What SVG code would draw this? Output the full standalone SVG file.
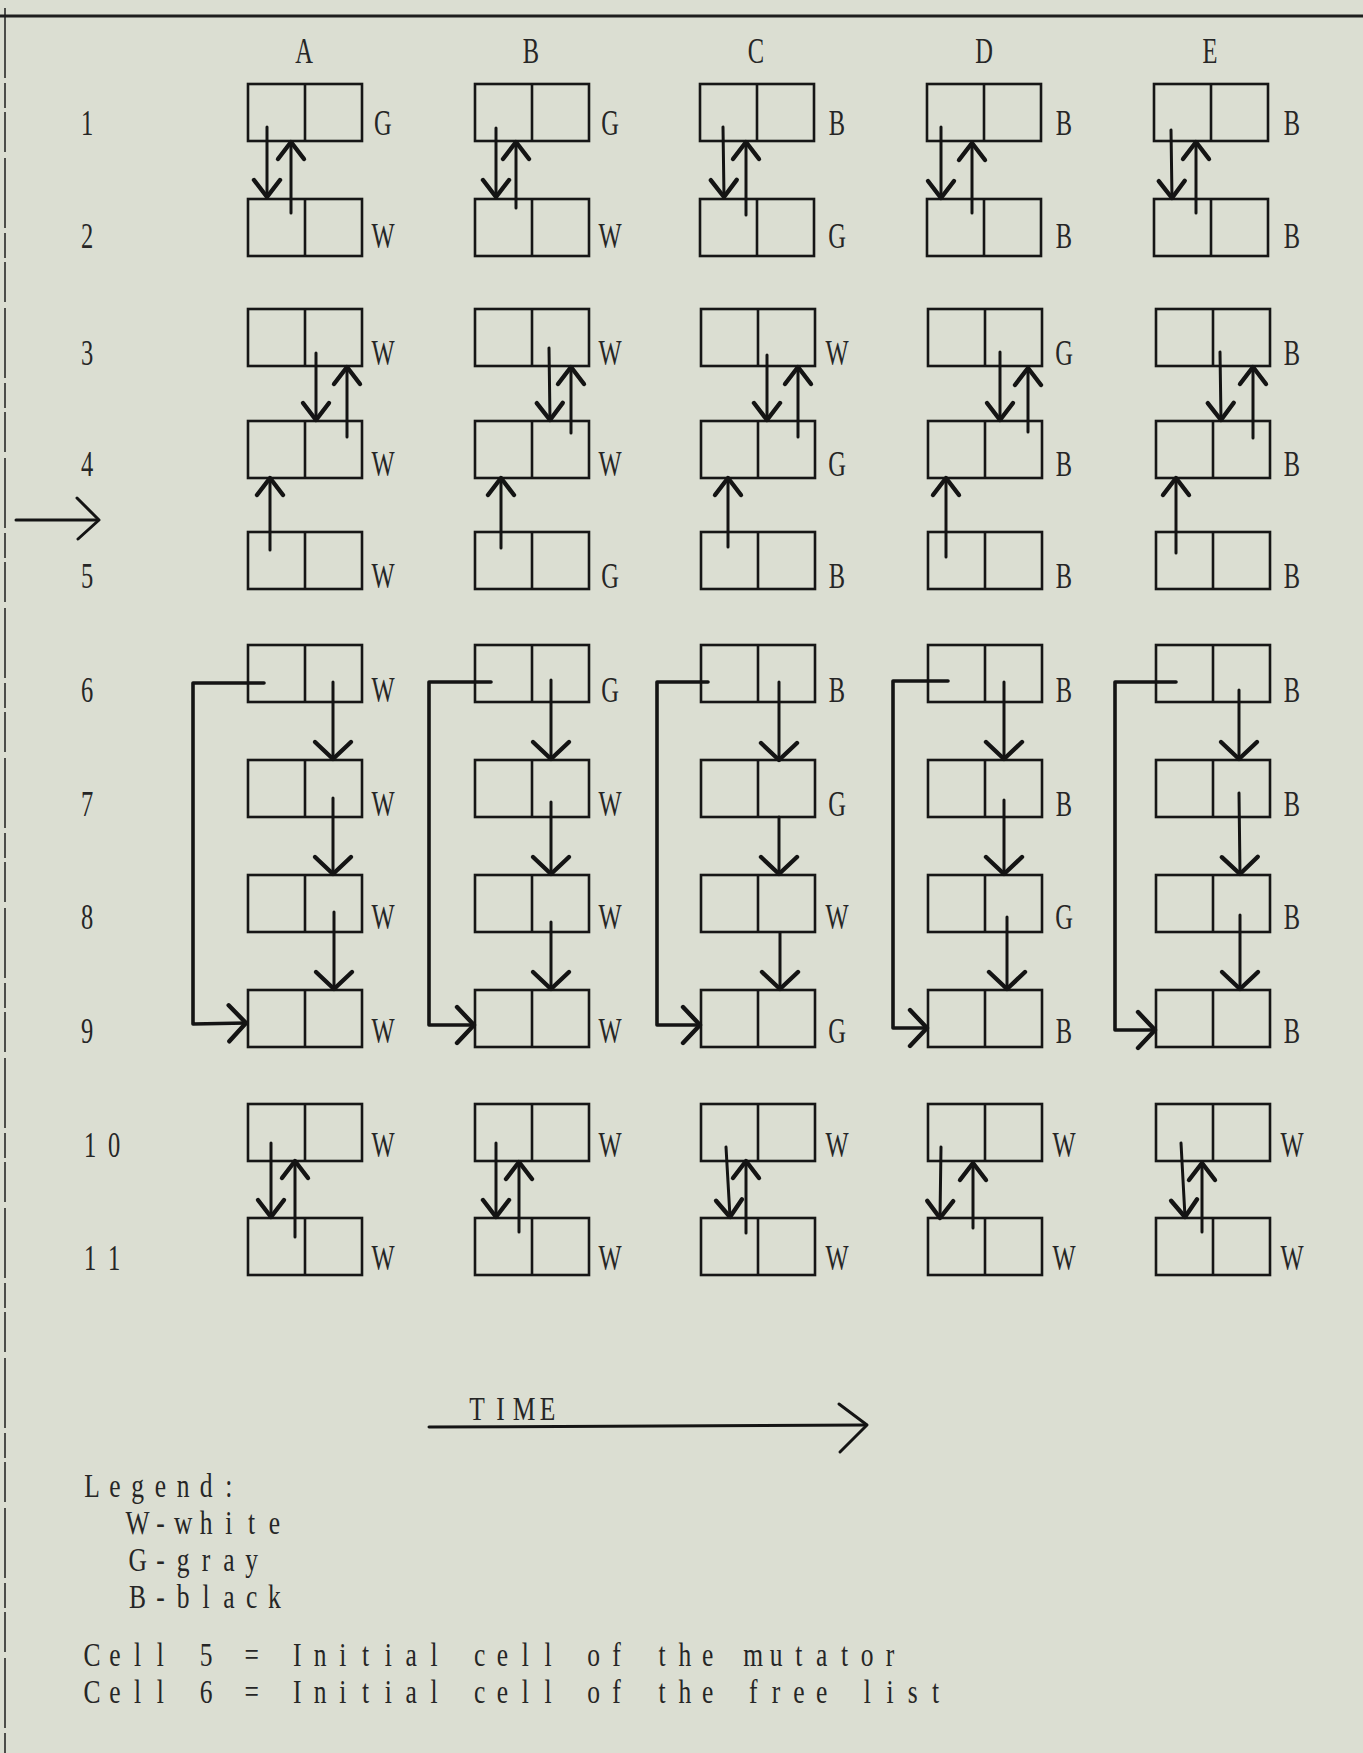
<svg xmlns="http://www.w3.org/2000/svg" width="1363" height="1753" viewBox="0 0 1363 1753">
<style>
.bg{fill:#dbded2}
.box{fill:none;stroke:#161616;stroke-width:2.6}
.lbl{font-family:"Liberation Serif",serif;font-size:35px;fill:#262626;text-anchor:middle;transform:scaleX(0.7)}
.tw{font-family:"Liberation Serif",serif;font-size:34px;fill:#262626;text-anchor:middle;transform:scaleX(0.75)}
.arr{fill:none;stroke:#141414;stroke-width:3;stroke-linecap:round;stroke-linejoin:round;marker-end:url(#ah)}
.arrL{fill:none;stroke:#141414;stroke-width:3;stroke-linecap:round;stroke-linejoin:round;marker-end:url(#ahL)}
.brk{stroke-width:3.6}
.line{fill:none;stroke:#141414;stroke-width:3;stroke-linecap:round;stroke-linejoin:round}
.frame{fill:none;stroke:#1e1e1e}
</style>
<defs>
<marker id="ah" markerUnits="userSpaceOnUse" viewBox="-25 -25 50 50" markerWidth="50" markerHeight="50" refX="0" refY="0" orient="auto" overflow="visible">
<path d="M-17,-13 L0,0 L-17,13" fill="none" stroke="#141414" stroke-width="4.4" stroke-linecap="round" stroke-linejoin="round"/>
</marker>
<marker id="ahL" markerUnits="userSpaceOnUse" viewBox="-25 -25 50 50" markerWidth="50" markerHeight="50" refX="0" refY="0" orient="auto" overflow="visible">
<path d="M-17,-18 L0,0 L-17,18" fill="none" stroke="#141414" stroke-width="4.4" stroke-linecap="round" stroke-linejoin="round"/>
</marker>
<g id="cell" class="box"><rect x="0" y="0" width="114" height="57"/><line x1="57" y1="0" x2="57" y2="57"/></g>
</defs>
<rect class="bg" x="0" y="0" width="1363" height="1753"/>
<g id="frame">
<line class="frame" x1="0" y1="16" x2="1363" y2="16" stroke-width="3"/>
<line class="frame" x1="5" y1="8" x2="5" y2="1753" stroke-width="1.5" stroke="#555" stroke-dasharray="70 5 25 4 40 6"/>
</g>
<g id="col-headers">
<text class="lbl" x="434.3" y="63">A</text>
<text class="lbl" x="758.6" y="63">B</text>
<text class="lbl" x="1080" y="63">C</text>
<text class="lbl" x="1405.7" y="63">D</text>
<text class="lbl" x="1728.6" y="63">E</text>
</g>
<g id="row-labels">
<text class="lbl" x="124.3" y="135">1</text>
<text class="lbl" x="124.3" y="248">2</text>
<text class="lbl" x="124.3" y="365">3</text>
<text class="lbl" x="124.3" y="476">4</text>
<text class="lbl" x="124.3" y="588">5</text>
<text class="lbl" x="124.3" y="702">6</text>
<text class="lbl" x="124.3" y="816">7</text>
<text class="lbl" x="124.3" y="929">8</text>
<text class="lbl" x="124.3" y="1043">9</text>
<text class="lbl" x="128.6 162.9" y="1157">10</text>
<text class="lbl" x="128.6 162.9" y="1270">11</text>
</g>
<g id="cells">
<g id="A1"><use href="#cell" x="248" y="84"/><text class="lbl" x="547.1" y="135">G</text></g>
<g id="B1"><use href="#cell" x="475" y="84"/><text class="lbl" x="871.4" y="135">G</text></g>
<g id="C1"><use href="#cell" x="700" y="84"/><text class="lbl" x="1195.7" y="135">B</text></g>
<g id="D1"><use href="#cell" x="927" y="84"/><text class="lbl" x="1520" y="135">B</text></g>
<g id="E1"><use href="#cell" x="1154" y="84"/><text class="lbl" x="1845.7" y="135">B</text></g>
<g id="A2"><use href="#cell" x="248" y="199"/><text class="lbl" x="547.1" y="248">W</text></g>
<g id="B2"><use href="#cell" x="475" y="199"/><text class="lbl" x="871.4" y="248">W</text></g>
<g id="C2"><use href="#cell" x="700" y="199"/><text class="lbl" x="1195.7" y="248">G</text></g>
<g id="D2"><use href="#cell" x="927" y="199"/><text class="lbl" x="1520" y="248">B</text></g>
<g id="E2"><use href="#cell" x="1154" y="199"/><text class="lbl" x="1845.7" y="248">B</text></g>
<g id="A3"><use href="#cell" x="248" y="309"/><text class="lbl" x="547.1" y="365">W</text></g>
<g id="B3"><use href="#cell" x="475" y="309"/><text class="lbl" x="871.4" y="365">W</text></g>
<g id="C3"><use href="#cell" x="701" y="309"/><text class="lbl" x="1195.7" y="365">W</text></g>
<g id="D3"><use href="#cell" x="928" y="309"/><text class="lbl" x="1520" y="365">G</text></g>
<g id="E3"><use href="#cell" x="1156" y="309"/><text class="lbl" x="1845.7" y="365">B</text></g>
<g id="A4"><use href="#cell" x="248" y="421"/><text class="lbl" x="547.1" y="476">W</text></g>
<g id="B4"><use href="#cell" x="475" y="421"/><text class="lbl" x="871.4" y="476">W</text></g>
<g id="C4"><use href="#cell" x="701" y="421"/><text class="lbl" x="1195.7" y="476">G</text></g>
<g id="D4"><use href="#cell" x="928" y="421"/><text class="lbl" x="1520" y="476">B</text></g>
<g id="E4"><use href="#cell" x="1156" y="421"/><text class="lbl" x="1845.7" y="476">B</text></g>
<g id="A5"><use href="#cell" x="248" y="532"/><text class="lbl" x="547.1" y="588">W</text></g>
<g id="B5"><use href="#cell" x="475" y="532"/><text class="lbl" x="871.4" y="588">G</text></g>
<g id="C5"><use href="#cell" x="701" y="532"/><text class="lbl" x="1195.7" y="588">B</text></g>
<g id="D5"><use href="#cell" x="928" y="532"/><text class="lbl" x="1520" y="588">B</text></g>
<g id="E5"><use href="#cell" x="1156" y="532"/><text class="lbl" x="1845.7" y="588">B</text></g>
<g id="A6"><use href="#cell" x="248" y="645"/><text class="lbl" x="547.1" y="702">W</text></g>
<g id="B6"><use href="#cell" x="475" y="645"/><text class="lbl" x="871.4" y="702">G</text></g>
<g id="C6"><use href="#cell" x="701" y="645"/><text class="lbl" x="1195.7" y="702">B</text></g>
<g id="D6"><use href="#cell" x="928" y="645"/><text class="lbl" x="1520" y="702">B</text></g>
<g id="E6"><use href="#cell" x="1156" y="645"/><text class="lbl" x="1845.7" y="702">B</text></g>
<g id="A7"><use href="#cell" x="248" y="760"/><text class="lbl" x="547.1" y="816">W</text></g>
<g id="B7"><use href="#cell" x="475" y="760"/><text class="lbl" x="871.4" y="816">W</text></g>
<g id="C7"><use href="#cell" x="701" y="760"/><text class="lbl" x="1195.7" y="816">G</text></g>
<g id="D7"><use href="#cell" x="928" y="760"/><text class="lbl" x="1520" y="816">B</text></g>
<g id="E7"><use href="#cell" x="1156" y="760"/><text class="lbl" x="1845.7" y="816">B</text></g>
<g id="A8"><use href="#cell" x="248" y="875"/><text class="lbl" x="547.1" y="929">W</text></g>
<g id="B8"><use href="#cell" x="475" y="875"/><text class="lbl" x="871.4" y="929">W</text></g>
<g id="C8"><use href="#cell" x="701" y="875"/><text class="lbl" x="1195.7" y="929">W</text></g>
<g id="D8"><use href="#cell" x="928" y="875"/><text class="lbl" x="1520" y="929">G</text></g>
<g id="E8"><use href="#cell" x="1156" y="875"/><text class="lbl" x="1845.7" y="929">B</text></g>
<g id="A9"><use href="#cell" x="248" y="990"/><text class="lbl" x="547.1" y="1043">W</text></g>
<g id="B9"><use href="#cell" x="475" y="990"/><text class="lbl" x="871.4" y="1043">W</text></g>
<g id="C9"><use href="#cell" x="701" y="990"/><text class="lbl" x="1195.7" y="1043">G</text></g>
<g id="D9"><use href="#cell" x="928" y="990"/><text class="lbl" x="1520" y="1043">B</text></g>
<g id="E9"><use href="#cell" x="1156" y="990"/><text class="lbl" x="1845.7" y="1043">B</text></g>
<g id="A10"><use href="#cell" x="248" y="1104"/><text class="lbl" x="547.1" y="1157">W</text></g>
<g id="B10"><use href="#cell" x="475" y="1104"/><text class="lbl" x="871.4" y="1157">W</text></g>
<g id="C10"><use href="#cell" x="701" y="1104"/><text class="lbl" x="1195.7" y="1157">W</text></g>
<g id="D10"><use href="#cell" x="928" y="1104"/><text class="lbl" x="1520" y="1157">W</text></g>
<g id="E10"><use href="#cell" x="1156" y="1104"/><text class="lbl" x="1845.7" y="1157">W</text></g>
<g id="A11"><use href="#cell" x="248" y="1218"/><text class="lbl" x="547.1" y="1270">W</text></g>
<g id="B11"><use href="#cell" x="475" y="1218"/><text class="lbl" x="871.4" y="1270">W</text></g>
<g id="C11"><use href="#cell" x="701" y="1218"/><text class="lbl" x="1195.7" y="1270">W</text></g>
<g id="D11"><use href="#cell" x="928" y="1218"/><text class="lbl" x="1520" y="1270">W</text></g>
<g id="E11"><use href="#cell" x="1156" y="1218"/><text class="lbl" x="1845.7" y="1270">W</text></g>
</g>
<g id="connectors">
<path class="arr" d="M267,127 L267,197"/><path class="arr" d="M291,213 L291,142"/>
<path class="arr" d="M496,128 L496,197"/><path class="arr" d="M516,208 L516,142"/>
<path class="arr" d="M723,127 L724,197"/><path class="arr" d="M746,215 L746,142"/>
<path class="arr" d="M941,127 L941,198"/><path class="arr" d="M972,213 L972,143"/>
<path class="arr" d="M1171,130 L1172,198"/><path class="arr" d="M1196,213 L1196,142"/>
<path class="arr" d="M316,353 L316,420"/><path class="arr" d="M347,437 L347,367"/><path class="arr" d="M270,550 L270,478"/>
<path class="arr" d="M549,348 L550,420"/><path class="arr" d="M571,433 L571,367"/><path class="arr" d="M501,548 L501,478"/>
<path class="arr" d="M767,355 L767,420"/><path class="arr" d="M798,437 L798,367"/><path class="arr" d="M728,547 L728,478"/>
<path class="arr" d="M1000,352 L1000,420"/><path class="arr" d="M1028,432 L1028,368"/><path class="arr" d="M946,557 L946,478"/>
<path class="arr" d="M1220,352 L1221,420"/><path class="arr" d="M1253,438 L1253,367"/><path class="arr" d="M1176,553 L1176,478"/>
<path class="arrL brk" d="M264,683 L193,683 L193,1024 L246,1023"/>
<path class="arrL" d="M333,682 L333,759"/><path class="arrL" d="M333,798 L333,874"/><path class="arrL" d="M334,912 L334,989"/>
<path class="arrL brk" d="M491,682 L429,682 L429,1025 L474,1025"/>
<path class="arrL" d="M551,680 L551,759"/><path class="arrL" d="M551,802 L551,874"/><path class="arrL" d="M551,922 L551,989"/>
<path class="arrL brk" d="M708,682 L657,682 L657,1025 L700,1025"/>
<path class="arrL" d="M779,682 L779,760"/><path class="arrL" d="M779,817 L779,874"/><path class="arrL" d="M780,933 L780,989"/>
<path class="arrL brk" d="M948,681 L893,681 L893,1028 L927,1028"/>
<path class="arrL" d="M1004,682 L1004,759"/><path class="arrL" d="M1004,800 L1004,874"/><path class="arrL" d="M1007,917 L1007,989"/>
<path class="arrL brk" d="M1176,682 L1115,682 L1115,1030 L1155,1030"/>
<path class="arrL" d="M1239,690 L1239,759"/><path class="arrL" d="M1239,793 L1240,874"/><path class="arrL" d="M1240,915 L1240,989"/>
<path class="arr" d="M271,1143 L271,1217"/><path class="arr" d="M295,1237 L295,1161"/>
<path class="arr" d="M496,1143 L496,1217"/><path class="arr" d="M519,1232 L519,1162"/>
<path class="arr" d="M726,1147 L730,1217"/><path class="arr" d="M746,1233 L746,1161"/>
<path class="arr" d="M941,1147 L940,1218"/><path class="arr" d="M973,1228 L973,1163"/>
<path class="arr" d="M1181,1143 L1185,1217"/><path class="arr" d="M1202,1232 L1202,1163"/>
</g>
<g id="annotations">
<path class="line" d="M16,520 L98,520"/><path class="line" d="M77,498 L99,520 L78,539"/>
<path class="line" stroke-width="3.6" d="M429,1427 L866,1425"/><path class="line" d="M839,1404 L867,1425 L840,1452"/>
<text class="tw" x="636 667.3 698.7 730" y="1420">TIME</text>
</g>
<g id="legend">
<text class="tw" x="122.7 153.1 183.5 213.9 244.3 274.7 305.1" y="1497">Legend:</text>
<text class="tw" x="183.5 213.9 244.3 274.7 305.1 335.5 365.9" y="1534">W-white</text>
<text class="tw" x="183.5 213.9 244.3 274.7 305.1 335.5" y="1571">G-gray</text>
<text class="tw" x="183.5 213.9 244.3 274.7 305.1 335.5 365.9" y="1608">B-black</text>
<text class="tw" x="122.7 153.1 183.5 213.9 244.3 274.7 305.1 335.5 365.9 396.3 426.7 457.1 487.5 517.9 548.3 578.7 609.1 639.5 669.9 700.3 730.7 761.1 791.5 821.9 852.3 882.7 913.1 943.5 973.9 1004.3 1034.7 1065.1 1095.5 1125.9 1156.3 1186.7" y="1666">Cell 5 = Initial cell of the mutator</text>
<text class="tw" x="122.7 153.1 183.5 213.9 244.3 274.7 305.1 335.5 365.9 396.3 426.7 457.1 487.5 517.9 548.3 578.7 609.1 639.5 669.9 700.3 730.7 761.1 791.5 821.9 852.3 882.7 913.1 943.5 973.9 1004.3 1034.7 1065.1 1095.5 1125.9 1156.3 1186.7 1217.1 1247.5" y="1703">Cell 6 = Initial cell of the free list</text>
</g>
</svg>
